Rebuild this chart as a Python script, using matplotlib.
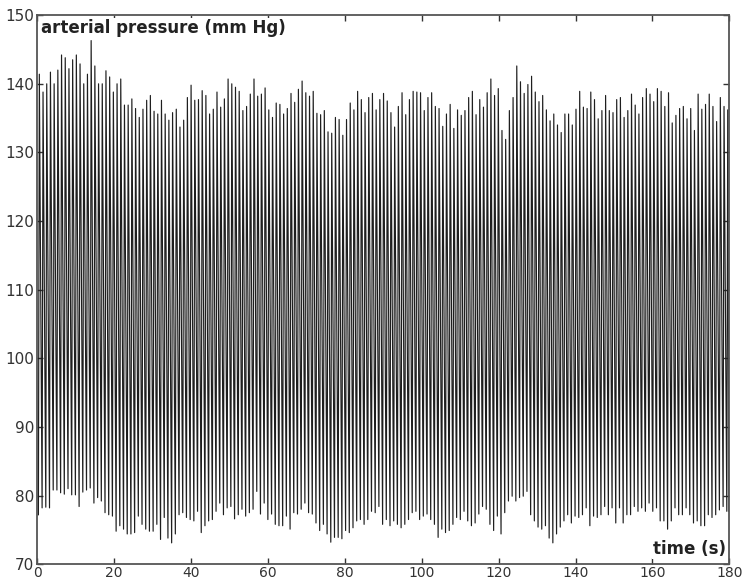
import numpy as np
import matplotlib
matplotlib.use("Agg")
import matplotlib.pyplot as plt

# Per-beat systolic peaks (mm Hg), read left to right
systolic_a = [141.4, 138.8, 140.0, 141.7, 140.0, 142.0, 144.2, 143.8, 142.2, 143.5, 144.2, 142.9,
              140.0, 141.4, 146.3, 142.6, 140.0, 140.0, 141.9, 141.0, 138.8, 140.0, 140.7, 136.9,
              136.9, 137.8, 136.4, 135.1, 136.3, 137.6, 138.3, 136.0, 135.6, 137.6, 135.6, 134.7,
              135.8, 136.3, 133.7, 134.7, 138.0, 139.8, 137.6, 137.7, 139.0, 138.3, 135.6, 136.3,
              138.8, 136.6, 137.8, 140.7, 140.0, 139.5]
systolic_b = [138.9, 136.1, 136.7, 138.5, 140.7, 138.2, 138.5, 139.4, 136.2, 135.1, 137.2, 137.0,
              135.6, 136.4, 138.6, 137.3, 139.2, 140.4, 138.7, 138.2, 138.9, 135.7, 135.5, 136.1,
              133.0, 132.8, 135.1, 134.8, 132.5, 134.8, 137.2, 136.2, 138.9, 137.7, 135.8, 138.0,
              138.6, 136.2, 137.7, 138.6, 137.5, 135.8, 133.7, 136.7, 138.7, 135.5, 137.7, 138.9,
              138.8, 138.7, 136.1, 138.0, 138.7, 136.7, 136.4, 133.8, 135.6, 137.0, 133.5, 136.2,
              135.4, 136.1, 138.0, 138.9, 135.5, 137.7, 136.6, 138.7, 140.7]
systolic_c = [138.3, 139.3, 133.2, 131.9, 136.1, 138.0, 142.6, 140.3, 138.6, 139.9, 141.1, 138.8,
              137.4, 138.3, 136.2, 134.6, 135.6, 134.0, 132.9, 135.6, 135.6, 134.0, 136.3, 138.9,
              136.6, 136.4, 138.8, 137.7, 134.9, 136.1, 138.3, 136.1, 135.8, 137.7, 138.0, 135.1,
              136.1, 138.5, 136.9, 135.6, 138.0, 139.3, 138.5, 137.4, 139.3, 138.9, 136.7, 138.7,
              134.3, 135.4, 136.4, 136.7, 134.9, 136.4, 133.2, 138.5, 136.3, 137.0, 138.5, 136.7,
              134.5, 138.0, 136.7, 136.2]

# Per-beat diastolic troughs (mm Hg)
diastolic_a = [77.2, 78.2, 78.3, 78.2, 80.8, 80.8, 80.4, 80.2, 81.0, 80.1, 80.1, 78.4, 80.5, 80.8,
               81.1, 78.9, 79.7, 79.2, 77.5, 77.2, 77.0, 74.8, 75.6, 75.1, 74.4, 74.4, 74.6, 77.0,
               75.8, 75.1, 74.8, 74.8, 75.8, 73.6, 76.8, 73.8, 73.1, 74.4, 77.2, 77.5, 76.8, 76.5,
               76.3, 77.7, 74.6, 75.6, 76.3, 76.5, 77.7, 78.9, 77.2, 78.2, 78.4, 76.6, 77.2, 78.0,
               77.0]
diastolic_b = [77.5, 78.0, 80.6, 77.3, 78.9, 76.5, 77.3, 75.8, 75.6, 75.6, 77.0, 75.1, 77.5, 77.3,
               78.0, 78.9, 77.5, 77.3, 76.0, 74.9, 75.8, 74.4, 73.2, 73.9, 73.9, 73.7, 74.9, 74.6,
               75.3, 76.3, 76.5, 75.8, 76.5, 77.7, 77.5, 78.4, 75.8, 76.5, 75.6, 76.3, 75.8, 75.3,
               75.8, 76.5, 77.5, 77.7, 76.5, 77.0, 77.3, 76.5, 75.8, 73.9, 75.1, 74.6, 74.9, 75.8,
               76.8, 76.5, 77.7, 76.3, 75.6, 76.0, 77.3, 78.4, 78.0, 75.8, 74.9]
diastolic_c = [77.0, 74.4, 77.5, 79.2, 79.9, 79.2, 79.7, 79.9, 80.6, 77.2, 76.3, 75.4, 75.1, 75.6,
               73.8, 73.1, 74.4, 75.4, 76.3, 77.2, 76.0, 77.0, 76.8, 77.2, 78.2, 75.6, 77.0, 76.8,
               77.2, 78.4, 77.2, 78.2, 76.0, 78.2, 76.0, 77.2, 77.2, 78.4, 77.7, 78.2, 77.7, 78.9,
               77.7, 78.2, 76.3, 76.3, 75.1, 76.3, 78.2, 77.2, 77.2, 78.2, 77.2, 76.0, 76.3, 75.6,
               75.6, 77.2, 76.8, 77.2, 77.9, 78.4, 77.7]

systolic = systolic_a + systolic_b + systolic_c
diastolic = diastolic_a + diastolic_b + diastolic_c
n = min(len(systolic), len(diastolic))
systolic = systolic[:n]
diastolic = diastolic[:n]

duration = 180.0
period = duration / n
t_list, p_list = [], []
for i in range(n):
    t0 = 0.3 + i * period
    t_list += [t0, t0 + 0.25 * period]
    p_list += [diastolic[i], systolic[i]]
t_list.append(duration - 0.1)
p_list.append(diastolic[-1])

fig = plt.figure(figsize=(7.45, 5.84), dpi=100)
ax = fig.add_axes([0.050, 0.034, 0.929, 0.940])
ax.plot(t_list, p_list, color="#1e1e1e", lw=0.85)

ax.set_xlim(0, 180)
ax.set_ylim(70, 150)
ax.set_xticks(np.arange(0, 181, 20))
ax.set_yticks(np.arange(70, 151, 10))
ax.tick_params(direction="in", length=4, width=1, top=True, right=True,
               labelsize=11, colors="#333333", pad=2)
ax.tick_params(axis="x", pad=1, labelsize=10)
for s in ax.spines.values():
    s.set_color("#555555")
    s.set_linewidth(1.3)

ax.text(0.006, 0.993, "arterial pressure (mm Hg)", transform=ax.transAxes,
        ha="left", va="top", fontsize=12, fontweight="bold", color="#222222",
        bbox=dict(facecolor="white", edgecolor="none", pad=1))
ax.text(0.995, 0.012, "time (s)", transform=ax.transAxes,
        ha="right", va="bottom", fontsize=12, fontweight="bold", color="#222222",
        bbox=dict(facecolor="white", edgecolor="none", pad=1))

fig.savefig("out.png", dpi=100)
